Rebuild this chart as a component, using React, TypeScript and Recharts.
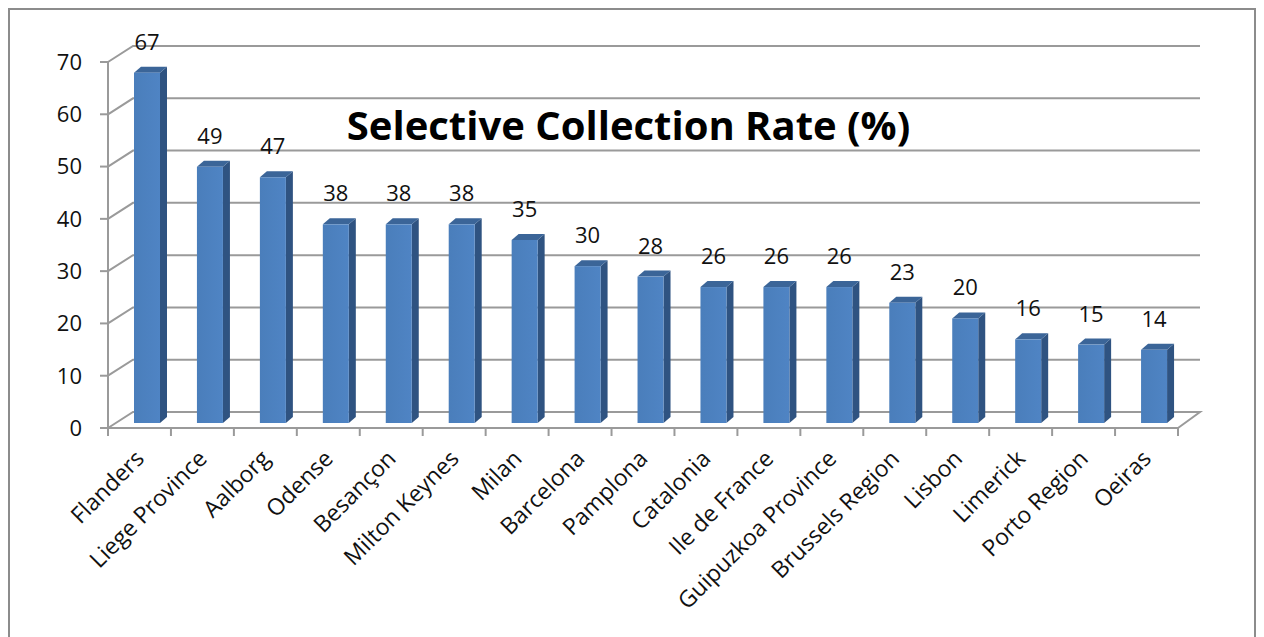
import React from 'react';
import { BarChart, Bar, XAxis, YAxis, CartesianGrid, LabelList } from 'recharts';

const categories = [
  'Flanders', 'Liege Province', 'Aalborg', 'Odense', 'Besançon', 'Milton Keynes', 'Milan',
  'Barcelona', 'Pamplona', 'Catalonia', 'Ile de France', 'Guipuzkoa Province',
  'Brussels Region', 'Lisbon', 'Limerick', 'Porto Region', 'Oeiras',
];
const rates = [67, 49, 47, 38, 38, 38, 35, 30, 28, 26, 26, 26, 23, 20, 16, 15, 14];
const yTicks = [0, 10, 20, 30, 40, 50, 60, 70];

const data = categories.map((name, i) => ({ name, rate: rates[i] }));

const W = 1244;
const H = 640;
const MARGIN = { top: 52, right: 76, left: 38, bottom: 122 };
const Y_AXIS_W = 60;
const X_AXIS_H = 100;
const PLOT_LEFT = MARGIN.left + Y_AXIS_W;
const PLOT_RIGHT = W - MARGIN.right;
const PLOT_BOTTOM = H - MARGIN.bottom - X_AXIS_H;
const BAND = (PLOT_RIGHT - PLOT_LEFT) / categories.length;

// depth of the back wall, and of the bars placed inside it
const WALL_DX = 25;
const WALL_DY = -16;
const BAR_DX = 8;
const BAR_DY = -5;
const SIDE_DX = 7;
const SIDE_DY = -6;

const FONT = '"Open Sans", Lato, sans-serif';
const LINE = '#9a9a9a';

const GridLine = (props: any) => {
  const { x1, y1, x2, index } = props;
  const bottom = Math.abs(y1 - PLOT_BOTTOM) < 1;
  let d = `M${x1},${y1} L${x1 + WALL_DX},${y1 + WALL_DY} L${x2 + WALL_DX - 3},${y1 + WALL_DY}`;
  if (bottom) d += ` L${x2},${y1}`;
  return <path key={`g-${index}`} d={d} fill="none" stroke={LINE} strokeWidth={2} />;
};

const Bar3D = (props: any) => {
  const { x, y, width, height } = props;
  if (height == null || height <= 0) return null;
  const fx = x + BAR_DX;
  const fy = y + BAR_DY;
  const side = `${fx + width},${fy} ${fx + width + SIDE_DX},${fy + SIDE_DY} ${fx + width + SIDE_DX},${fy + height + SIDE_DY} ${fx + width},${fy + height}`;
  const top = `${fx},${fy} ${fx + SIDE_DX},${fy + SIDE_DY} ${fx + width + SIDE_DX},${fy + SIDE_DY} ${fx + width},${fy}`;
  return (
    <g>
      <polygon points={side} fill="#2f5381" />
      <polygon points={top} fill="#3b6598" />
      <rect x={fx} y={fy} width={width} height={height} fill="url(#frontFace)" />
    </g>
  );
};

const ValueLabel = (props: any) => {
  const { x, y, width, value } = props;
  return (
    <text x={x + width / 2 + BAR_DX} y={y + BAR_DY - 23} textAnchor="middle"
      fontFamily={FONT} fontSize={22} fill="#111">
      {value}
    </text>
  );
};

const CategoryTick = (props: any) => {
  const { x, payload, index } = props;
  const tx = x + 6;
  const ty = PLOT_BOTTOM + 32;
  const left = x - BAND / 2;
  return (
    <g>
      <line x1={left} y1={PLOT_BOTTOM} x2={left} y2={PLOT_BOTTOM + 8} stroke={LINE} strokeWidth={2} />
      {index === categories.length - 1 && (
        <line x1={x + BAND / 2} y1={PLOT_BOTTOM} x2={x + BAND / 2} y2={PLOT_BOTTOM + 8} stroke={LINE} strokeWidth={2} />
      )}
      <text x={tx} y={ty} transform={`rotate(-45, ${tx}, ${ty})`} textAnchor="end"
        fontFamily={FONT} fontSize={23} fill="#111">
        {payload.value}
      </text>
    </g>
  );
};

export default function App() {
  return (
    <div style={{ position: 'relative', width: W, height: H, border: '2px solid #8c8c8c', background: '#fff' }}>
      <BarChart width={W} height={H} data={data} margin={MARGIN} barSize={26}>
        <defs>
          <linearGradient id="frontFace" x1="0" y1="0" x2="1" y2="0">
            <stop offset="0%" stopColor="#4a7ebb" />
            <stop offset="100%" stopColor="#4f84c4" />
          </linearGradient>
        </defs>
        <CartesianGrid vertical={false} horizontal={GridLine} />
        <XAxis dataKey="name" interval={0} height={X_AXIS_H} tickLine={false}
          axisLine={{ stroke: LINE, strokeWidth: 2 }} tick={CategoryTick} />
        <YAxis domain={[0, 70]} ticks={yTicks} width={Y_AXIS_W} tickSize={8} tickMargin={18}
          axisLine={{ stroke: LINE, strokeWidth: 2 }} tickLine={{ stroke: LINE, strokeWidth: 2 }}
          tick={{ fontFamily: FONT, fontSize: 22, fill: '#111' }} />
        <Bar dataKey="rate" shape={Bar3D} isAnimationActive={false}>
          <LabelList dataKey="rate" content={ValueLabel} />
        </Bar>
      </BarChart>
      <div style={{
        position: 'absolute', left: 0, width: 1237, top: 87, textAlign: 'center',
        fontFamily: FONT, fontWeight: 700, fontSize: 40, color: '#000',
      }}>
        Selective Collection Rate (%)
      </div>
    </div>
  );
}
